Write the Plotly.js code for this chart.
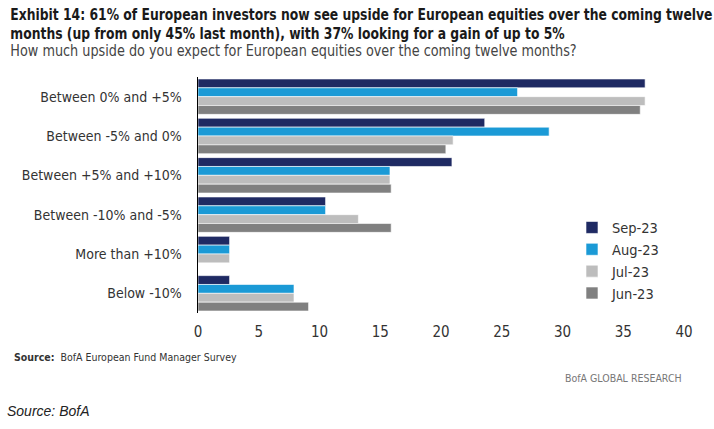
<!DOCTYPE html>
<html>
<head>
<meta charset="utf-8">
<script src="https://cdn.plot.ly/plotly-3.0.1.min.js"></script>
<style>html,body{margin:0;padding:0;background:#fff;}#chart{width:714px;height:429px;}</style>
</head>
<body>
<div id="chart"></div>
<script>
const categories = ["Between 0% and +5%", "Between -5% and 0%", "Between +5% and +10%", "Between -10% and -5%", "More than +10%", "Below -10%"];
const sep23 = [36.8, 23.6, 20.9, 10.5, 2.6, 2.6];
const aug23 = [26.3, 28.9, 15.8, 10.5, 2.6, 7.9];
const jul23 = [36.8, 21.0, 15.8, 13.2, 2.6, 7.9];
const jun23 = [36.4, 20.4, 15.9, 15.9, 0, 9.1];
const seriesNames = ["Sep-23", "Aug-23", "Jul-23", "Jun-23"];
const xTicks = [0, 5, 10, 15, 20, 25, 30, 35, 40];

const FONT = "'DejaVu Sans Condensed', 'Liberation Sans Narrow', 'Roboto', sans-serif";
const colors = ["#1f2a63", "#1b9ad6", "#bdbdbd", "#808080"];
const series = [sep23, aug23, jul23, jun23];

const traces = series.map((vals, i) => ({
  type: "bar",
  orientation: "h",
  name: seriesNames[i],
  x: vals,
  y: categories,
  legendgroup: "g" + i,
  marker: {color: colors[i], line: {color: "#ffffff", width: 0.6}},
  hoverinfo: "x+name"
}));

const W = 486;
function px(x) { return (x - 198) / W; }

const TITLE1 = "Exhibit 14: 61% of European investors now see upside for European equities over the coming twelve";
const TITLE2 = "months (up from only 45% last month), with 37% looking for a gain of up to 5%";
const SUBTITLE = "How much upside do you expect for European equities over the coming twelve months?";

const layout = {
  width: 714, height: 429,
  margin: {l: 198, r: 30, t: 77, b: 116},
  paper_bgcolor: "#ffffff", plot_bgcolor: "#ffffff",
  barmode: "group", bargap: 0.1, bargroupgap: 0,
  font: {family: FONT, color: "#333333", size: 14},
  showlegend: true,
  legend: {
    x: px(572), y: 0.43, xanchor: "left", yanchor: "top",
    font: {family: FONT, size: 14.5, color: "#333333"},
    traceorder: "grouped", tracegroupgap: 0,
    bgcolor: "rgba(0,0,0,0)"
  },
  xaxis: {
    range: [0, 40], tickvals: xTicks, ticktext: xTicks.map(String),
    showgrid: false, zeroline: false, showline: false, ticks: "",
    ticklabelstandoff: 8,
    tickfont: {family: FONT, size: 15, color: "#333333"},
    fixedrange: true
  },
  yaxis: {
    autorange: "reversed", showgrid: false, zeroline: false,
    showline: true, linecolor: "#000000", linewidth: 1.5, ticks: "",
    ticklabelstandoff: 12,
    tickfont: {family: FONT, size: 14, color: "#333333"},
    fixedrange: true
  },
  annotations: [
    {xref: "paper", yref: "paper", x: px(8), y: 1 + (77 - 14) / 236, xanchor: "left", yanchor: "middle", showarrow: false,
     text: "<b>" + TITLE1 + "</b>", font: {family: FONT, size: 16, color: "#1a1a1a"}},
    {xref: "paper", yref: "paper", x: px(8), y: 1 + (77 - 33) / 236, xanchor: "left", yanchor: "middle", showarrow: false,
     text: "<b>" + TITLE2 + "</b>", font: {family: FONT, size: 16, color: "#1a1a1a"}},
    {xref: "paper", yref: "paper", x: px(8), y: 1 + (77 - 51) / 236, xanchor: "left", yanchor: "middle", showarrow: false,
     text: SUBTITLE, font: {family: FONT, size: 15, color: "#444444"}},
    {xref: "paper", yref: "paper", x: px(12), y: (313 - 357) / 236, xanchor: "left", yanchor: "middle", showarrow: false,
     text: "<b>Source:</b>  BofA European Fund Manager Survey",
     font: {family: FONT, size: 10.5, color: "#333333"}},
    {xref: "paper", yref: "paper", x: px(684), y: (313 - 378) / 236, xanchor: "right", yanchor: "middle", showarrow: false,
     text: "BofA GLOBAL RESEARCH",
     font: {family: FONT, size: 10.5, color: "#777777"}},
    {xref: "paper", yref: "paper", x: px(5), y: (313 - 411) / 236, xanchor: "left", yanchor: "middle", showarrow: false,
     text: "<i>Source: BofA</i>",
     font: {family: "'Liberation Sans', Arial, sans-serif", size: 14, color: "#222222"}}
  ]
};

// Target text widths (px) to emulate the condensed face of the original
const targetWidths = {};
targetWidths[TITLE1] = 703;
targetWidths[TITLE2] = 555;
targetWidths[SUBTITLE] = 567;

Plotly.newPlot("chart", traces, layout, {displayModeBar: false, staticPlot: true}).then(function (gd) {
  gd.querySelectorAll("text.annotation-text").forEach(function (t) {
    const w = targetWidths[t.textContent];
    if (!w) return;
    const bb = t.getBBox();
    if (bb.width <= 0) return;
    const s = w / bb.width;
    const x0 = bb.x;
    const prev = t.getAttribute("transform") || "";
    t.setAttribute("transform", prev + " translate(" + (x0 * (1 - s)) + ",0) scale(" + s + ",1)");
  });
});
</script>
</body>
</html>
